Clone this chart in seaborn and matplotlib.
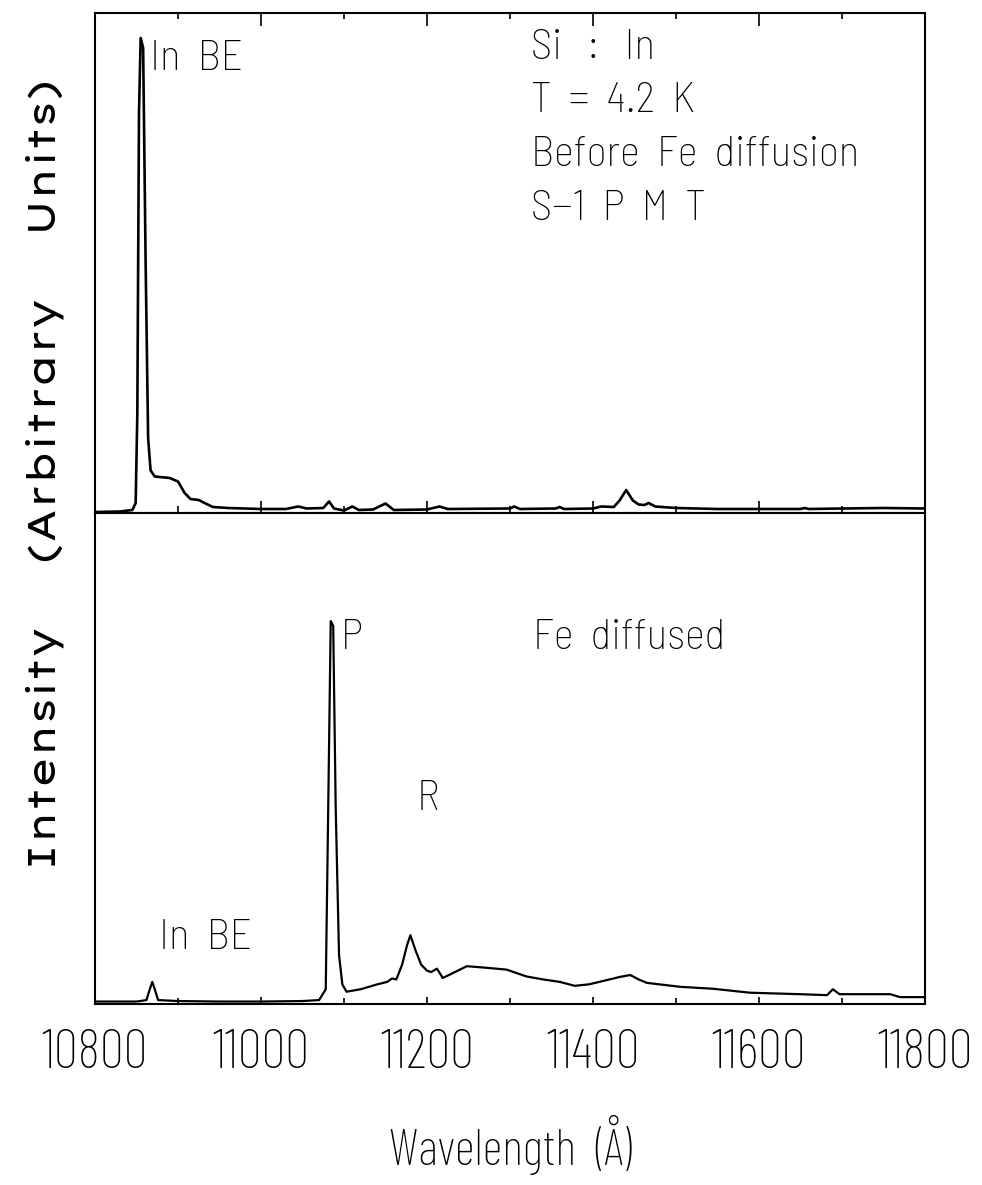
import numpy as np
import pandas as pd
import matplotlib
matplotlib.use("Agg")
import matplotlib.pyplot as plt
import seaborn as sns
from matplotlib.ticker import MultipleLocator
from matplotlib import font_manager

# ---- data ----
top_wl = [10800, 10830, 10845, 10849, 10851, 10853, 10855, 10858, 10861, 10864, 10867,
          10872, 10890, 10900, 10908, 10915, 10925, 10932, 10942, 10960, 11000, 11030,
          11045, 11055, 11075, 11082, 11088, 11100, 11110, 11118, 11135, 11150, 11160,
          11200, 11215, 11225, 11300, 11305, 11312, 11355, 11360, 11365, 11400, 11410,
          11425, 11432, 11440, 11448, 11455, 11462, 11467, 11475, 11500, 11550, 11600,
          11650, 11655, 11660, 11700, 11750, 11800]
top_int = [0.2, 0.3, 0.6, 2, 20, 80, 95, 93, 50, 15, 8.5,
           7.3, 7.0, 6.3, 4.0, 2.8, 2.6, 2.0, 1.2, 1.0, 0.8, 0.8,
           1.3, 0.9, 1.0, 2.3, 0.9, 0.5, 1.3, 0.6, 0.7, 1.9, 0.6,
           0.7, 1.3, 0.8, 0.9, 1.3, 0.8, 0.9, 1.2, 0.8, 0.9, 1.3,
           1.2, 2.5, 4.6, 2.5, 1.7, 1.6, 2.0, 1.3, 1.0, 0.8, 0.8,
           0.8, 1.0, 0.8, 0.9, 1.0, 0.9]

bot_wl = [10800, 10850, 10862, 10866, 10869, 10872, 10876, 10900, 10950, 11000, 11050,
          11070, 11078, 11081, 11084, 11087, 11090, 11094, 11098, 11103, 11120, 11140,
          11152, 11158, 11163, 11170, 11176, 11180, 11186, 11193, 11200, 11205, 11212,
          11219, 11230, 11248, 11270, 11296, 11320, 11340, 11360, 11378, 11395, 11410,
          11432, 11445, 11455, 11465, 11505, 11545, 11589, 11649, 11682, 11689, 11697,
          11758, 11770, 11800]
bot_int = [0.5, 0.5, 0.8, 3.0, 4.5, 3.0, 0.8, 0.6, 0.5, 0.5, 0.6,
           0.8, 3.0, 40, 78, 77, 40, 10, 4.0, 2.5, 3.0, 4.0,
           4.5, 5.2, 5.0, 8.0, 12, 14, 11, 8.0, 6.8, 6.5, 7.2,
           5.3, 6.2, 7.7, 7.4, 7.0, 5.6, 5.0, 4.5, 3.7, 4.0, 4.6,
           5.5, 5.9, 5.0, 4.3, 3.5, 3.1, 2.3, 2.0, 1.8, 3.0, 2.0,
           2.0, 1.4, 1.4]

x_ticks = [10800, 11000, 11200, 11400, 11600, 11800]
x_ticklabels = ["10800", "11000", "11200", "11400", "11600", "11800"]

top_df = pd.DataFrame({"wl": top_wl, "I": top_int})
bot_df = pd.DataFrame({"wl": bot_wl, "I": bot_int})

names = {f.name for f in font_manager.fontManager.ttflist}


def pick(cands, default="DejaVu Sans"):
    for c in cands:
        if c in names:
            return c
    return default


NARROW = pick(["Barlow Condensed Light", "Barlow Condensed", "Roboto Condensed Light",
               "Roboto Condensed"], "Liberation Sans")
SEMI = pick(["Barlow Semi Condensed Light", "Barlow Semi Condensed", NARROW], NARROW)
WIDE = pick(["Lexend Giga Light", "Lexend Giga", "Lexend Exa Light", "Lexend Exa"], "DejaVu Sans")

sns.set_style("white")
plt.rcParams["font.family"] = [NARROW, "DejaVu Sans"]
plt.rcParams["font.weight"] = "light"
plt.rcParams["axes.labelweight"] = "light"
plt.rcParams["axes.labelcolor"] = "black"
plt.rcParams["text.color"] = "black"
plt.rcParams["xtick.color"] = "black"

fig = plt.figure(figsize=(9.82, 11.85), dpi=100)
L, R = 95 / 982, 925 / 982
T, M, B = 1 - 13 / 1185, 1 - 513 / 1185, 1 - 1004 / 1185
ax1 = fig.add_axes([L, M, R - L, T - M])
ax2 = fig.add_axes([L, B, R - L, M - B], sharex=ax1)

sns.lineplot(data=top_df, x="wl", y="I", ax=ax1, color="black", lw=1.9)
sns.lineplot(data=bot_df, x="wl", y="I", ax=ax2, color="black", lw=1.6)

for ax in (ax1, ax2):
    ax.set_xlim(10800, 11800)
    ax.set_ylim(0, 100)
    ax.set_yticks([])
    ax.set_ylabel("")
    ax.set_xlabel("")
    for s in ax.spines.values():
        s.set_linewidth(1.5)
        s.set_color("black")

# ticks crossing the shared middle line
ax1.xaxis.set_major_locator(MultipleLocator(200))
ax1.xaxis.set_minor_locator(MultipleLocator(100))
ax1.tick_params(axis="x", which="major", direction="inout", length=18, width=1.2,
                top=False, bottom=True, labelbottom=False)
ax1.tick_params(axis="x", which="minor", direction="inout", length=9.5, width=1.2,
                top=False, bottom=True)

# inward ticks on the top border
twin = ax1.twiny()
twin.set_xlim(10800, 11800)
twin.xaxis.set_major_locator(MultipleLocator(200))
twin.xaxis.set_minor_locator(MultipleLocator(100))
twin.tick_params(axis="x", which="major", direction="in", length=9, width=1.2,
                 top=True, bottom=False, labeltop=False)
twin.tick_params(axis="x", which="minor", direction="in", length=4, width=1.2,
                 top=True, bottom=False)
for s in twin.spines.values():
    s.set_visible(False)

ax2.set_xticks(x_ticks)
ax2.set_xticklabels(x_ticklabels)
ax2.xaxis.set_minor_locator(MultipleLocator(100))
ax2.tick_params(axis="x", which="major", direction="in", length=5, width=1.2,
                top=False, bottom=True, labelsize=39, pad=18)
ax2.tick_params(axis="x", which="minor", direction="in", length=4, width=1.2,
                top=False, bottom=True)
ax2.set_xlabel("Wavelength  (Å)", fontsize=36, labelpad=26, fontweight="light",
               color="black")

# annotations
fs = 31
kw = dict(fontsize=fs, va="center", ha="left", family=[SEMI, "DejaVu Sans"], fontweight="light")
ax1.text(0.066, 0.906, "In  BE", transform=ax1.transAxes, **kw)
ax1.text(0.525, 0.929, "Si   :   In", transform=ax1.transAxes, **kw)
ax1.text(0.525, 0.822, "T  =  4.2  K", transform=ax1.transAxes, **kw)
ax1.text(0.525, 0.715, "Before  Fe  diffusion", transform=ax1.transAxes, **kw)
ax1.text(0.525, 0.608, "S−1  P  M  T", transform=ax1.transAxes, **kw)

ax2.text(0.528, 0.744, "Fe  diffused", transform=ax2.transAxes, **kw)
ax2.text(0.296, 0.744, "P", transform=ax2.transAxes, **kw)
ax2.text(0.388, 0.417, "R", transform=ax2.transAxes, **kw)
ax2.text(0.077, 0.134, "In  BE", transform=ax2.transAxes, **kw)

fig.text(45 / 982, 0.60, "Intensity    (Arbitrary    Units)", rotation=90, fontsize=28.5,
         va="center", ha="center", family=[WIDE, "DejaVu Sans"], fontweight="light")

fig.savefig("out.png", dpi=100)
